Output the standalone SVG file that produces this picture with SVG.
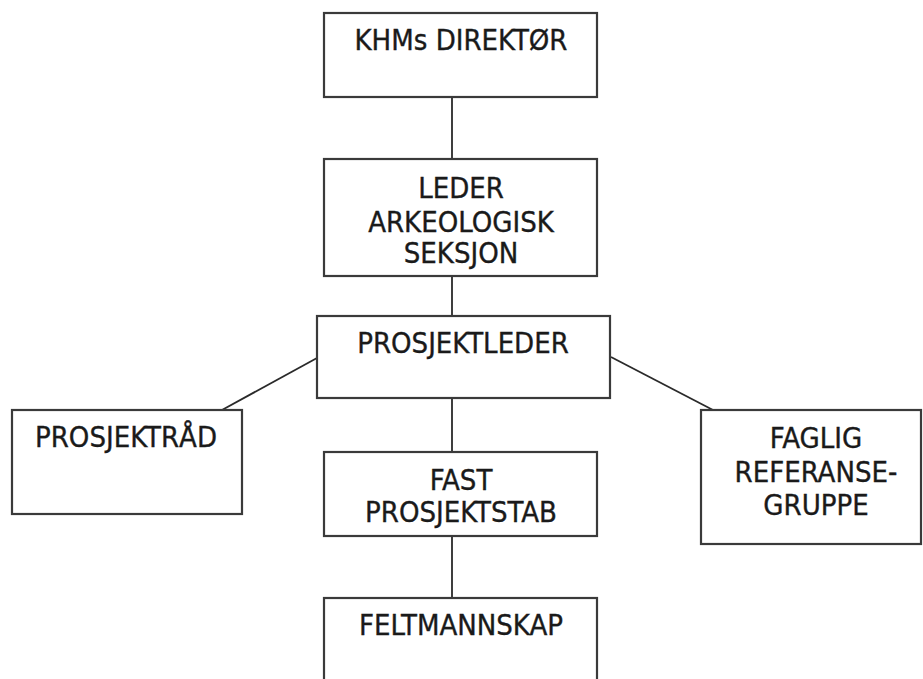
<svg xmlns="http://www.w3.org/2000/svg" width="923" height="679" viewBox="0 0 923 679">
<style>
.box{fill:#fff;stroke:#3a3a3a;stroke-width:2.2}
.lbl{font-family:"DejaVu Sans Condensed","DejaVu Sans",sans-serif;font-size:29px;fill:#1a1a1a;stroke:#1a1a1a;stroke-width:0.35;text-anchor:middle}
.con{stroke:#2a2a2a;stroke-width:1.8;fill:none}
</style>
<rect width="923" height="679" fill="#fff"/>
<g id="connectors">
<line class="con" x1="452" y1="97" x2="452" y2="159"/>
<line class="con" x1="452" y1="276" x2="452" y2="316"/>
<line class="con" x1="452" y1="398" x2="452" y2="452"/>
<line class="con" x1="452" y1="536" x2="452" y2="598"/>
<line class="con" x1="317" y1="358" x2="222" y2="410"/>
<line class="con" x1="611" y1="357" x2="713" y2="410"/>
</g>
<g id="khms-direktor">
<rect class="box" x="324" y="13" width="273" height="84"/>
<text class="lbl" x="461" y="50">KHMs DIREKTØR</text>
</g>
<g id="leder">
<rect class="box" x="324" y="159" width="273" height="117"/>
<text class="lbl" x="461" y="198">LEDER</text>
<text class="lbl" x="461" y="232">ARKEOLOGISK</text>
<text class="lbl" x="461" y="263">SEKSJON</text>
</g>
<g id="prosjektleder">
<rect class="box" x="317" y="316" width="293" height="82"/>
<text class="lbl" x="463" y="353">PROSJEKTLEDER</text>
</g>
<g id="prosjektrad">
<rect class="box" x="12" y="410" width="230" height="104"/>
<text class="lbl" x="126" y="447">PROSJEKTRÅD</text>
</g>
<g id="faglig">
<rect class="box" x="701" y="410" width="220" height="134"/>
<text class="lbl" x="816" y="448">FAGLIG</text>
<text class="lbl" x="816" y="482">REFERANSE-</text>
<text class="lbl" x="816" y="515">GRUPPE</text>
</g>
<g id="fast">
<rect class="box" x="324" y="452" width="273" height="84"/>
<text class="lbl" x="461" y="490">FAST</text>
<text class="lbl" x="461" y="522">PROSJEKTSTAB</text>
</g>
<g id="feltmannskap">
<rect class="box" x="324" y="598" width="273" height="100"/>
<text class="lbl" x="461" y="635">FELTMANNSKAP</text>
</g>
</svg>
